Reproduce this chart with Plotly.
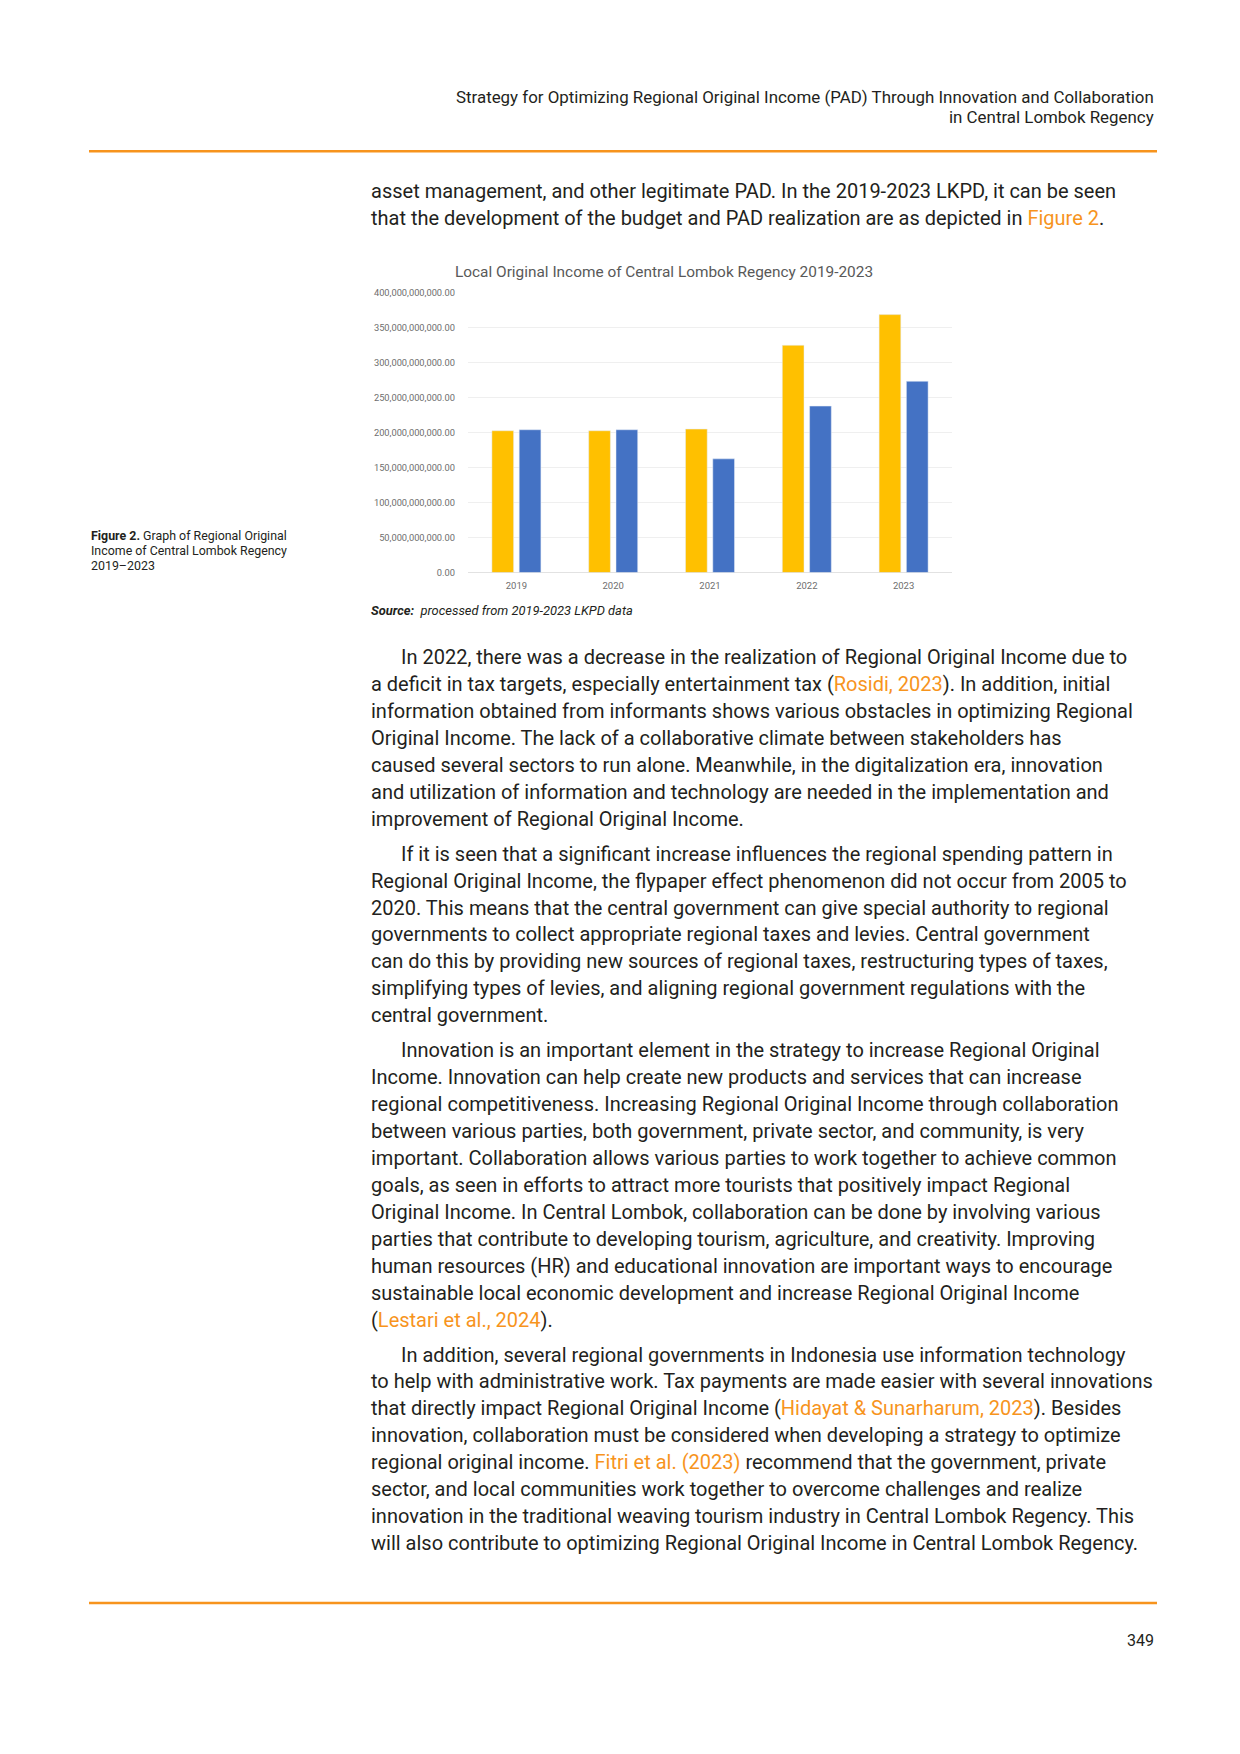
import plotly.graph_objects as go

# page size in px
W = 1240
H = 1754
OFF = 8  # the html body margin shifts the plot by 8px

# chart data (rupiah)
years = ['2019', '2020', '2021', '2022', '2023']
budget = [202.3e9, 202.3e9, 204.7e9, 324.3e9, 368.1e9]
realization = [203.7e9, 203.7e9, 162.2e9, 237.5e9, 272.9e9]

ORANGE = '#F7941D'
TEXT = '#231F20'
FONT = 'Roboto, Inter, Noto Sans, sans-serif'


def px(x):
    return (x - OFF) / W


def py(y):
    return 1 - (y - OFF) / H


def link(s):
    return "<span style='color:%s'>%s</span>" % (ORANGE, s)


header = ['Strategy for Optimizing Regional Original Income (PAD) Through Innovation and Collaboration',
          'in Central Lombok Regency']

intro = ['asset management, and other legitimate PAD. In the 2019-2023 LKPD, it can be seen',
         'that the development of the budget and PAD realization are as depicted in ' + link('Figure 2') + '.']

para1 = ['In 2022, there was a decrease in the realization of Regional Original Income due to',
         'a deficit in tax targets, especially entertainment tax (' + link('Rosidi, 2023') + '). In addition, initial',
         'information obtained from informants shows various obstacles in optimizing Regional',
         'Original Income. The lack of a collaborative climate between stakeholders has',
         'caused several sectors to run alone. Meanwhile, in the digitalization era, innovation',
         'and utilization of information and technology are needed in the implementation and',
         'improvement of Regional Original Income.']

para2 = ['If it is seen that a significant increase influences the regional spending pattern in',
         'Regional Original Income, the flypaper effect phenomenon did not occur from 2005 to',
         '2020. This means that the central government can give special authority to regional',
         'governments to collect appropriate regional taxes and levies. Central government',
         'can do this by providing new sources of regional taxes, restructuring types of taxes,',
         'simplifying types of levies, and aligning regional government regulations with the',
         'central government.']

para3 = ['Innovation is an important element in the strategy to increase Regional Original',
         'Income. Innovation can help create new products and services that can increase',
         'regional competitiveness. Increasing Regional Original Income through collaboration',
         'between various parties, both government, private sector, and community, is very',
         'important. Collaboration allows various parties to work together to achieve common',
         'goals, as seen in efforts to attract more tourists that positively impact Regional',
         'Original Income. In Central Lombok, collaboration can be done by involving various',
         'parties that contribute to developing tourism, agriculture, and creativity. Improving',
         'human resources (HR) and educational innovation are important ways to encourage',
         'sustainable local economic development and increase Regional Original Income',
         '(' + link('Lestari et al., 2024') + ').']

para4 = ['In addition, several regional governments in Indonesia use information technology',
         'to help with administrative work. Tax payments are made easier with several innovations',
         'that directly impact Regional Original Income (' + link('Hidayat &amp; Sunarharum, 2023') + '). Besides',
         'innovation, collaboration must be considered when developing a strategy to optimize',
         'regional original income. ' + link('Fitri et al. (2023)') + ' recommend that the government, private',
         'sector, and local communities work together to overcome challenges and realize',
         'innovation in the traditional weaving tourism industry in Central Lombok Regency. This',
         'will also contribute to optimizing Regional Original Income in Central Lombok Regency.']

caption = ['<b>Figure 2.</b> Graph of Regional Original',
           'Income of Central Lombok Regency',
           '2019\u20132023']

fig = go.Figure()
fig.add_trace(go.Bar(x=years, y=budget, name='Budget', marker_color='#FFC000'))
fig.add_trace(go.Bar(x=years, y=realization, name='Realization', marker_color='#4472C4'))

ann = []


def txt(x, y, s, size, color=TEXT, anchor='left', family=FONT):
    ann.append(dict(x=px(x), y=py(y), xref='paper', yref='paper', text=s, showarrow=False,
                    xanchor=anchor, yanchor='middle', align=anchor,
                    font=dict(family=family, size=size, color=color)))


# running header
for i, s in enumerate(header):
    txt(1156, 92 + i * 20, s, 16.9, anchor='right')

# body
LH = 27.1
BODY = 20
for i, s in enumerate(intro):
    txt(369, 186 + i * LH, s, BODY)

for start, lines in [(655, para1), (853, para2), (1051, para3), (1357, para4)]:
    for i, s in enumerate(lines):
        txt(399 if i == 0 else 369, start + i * LH, s, BODY)

# chart title / source / caption
txt(664, 268, 'Local Original Income of Central Lombok Regency 2019-2023', 15.4, color='#595959', anchor='center')
txt(369, 608, '<b><i>Source:</i></b>  <i>processed from 2019-2023 LKPD data</i>', 12.9)
for i, s in enumerate(caption):
    txt(89, 533 + i * 15, s, 12.4)

# page number
txt(1156, 1645, '349', 16, anchor='right')

shapes = [
    dict(type='line', xref='paper', yref='paper', x0=px(89), x1=px(1157), y0=py(146), y1=py(146),
         line=dict(color=ORANGE, width=2.5)),
    dict(type='line', xref='paper', yref='paper', x0=px(89), x1=px(1157), y0=py(1607), y1=py(1607),
         line=dict(color=ORANGE, width=2.5)),
]

fig.update_layout(
    width=W, height=H,
    margin=dict(l=0, r=0, t=0, b=0),
    paper_bgcolor='white', plot_bgcolor='white',
    showlegend=False,
    barmode='group', bargap=0.436, bargroupgap=0.205,
    annotations=ann, shapes=shapes,
    xaxis=dict(domain=[px(468), px(952)], type='category', showgrid=False, ticks='',
               tickfont=dict(family=FONT, size=9.5, color='#6E6E6E'), ticklabelstandoff=6,
               showline=False, zeroline=False),
    yaxis=dict(domain=[py(570), py(288)], range=[0, 400e9], dtick=50e9, tickformat=',.2f',
               showgrid=True, gridcolor='#EFEFEF', gridwidth=1, zeroline=True, zerolinecolor='#E2E2E2',
               zerolinewidth=1, ticks='', ticklabelstandoff=12,
               tickfont=dict(family=FONT, size=9.3, color='#6E6E6E')),
)

fig.write_html('out.html')
